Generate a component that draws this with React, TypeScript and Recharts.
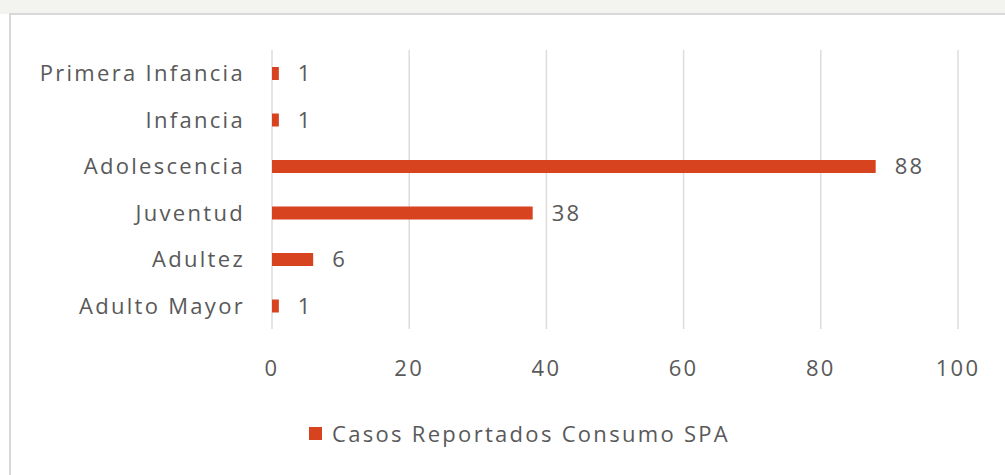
import { Bar, BarChart, CartesianGrid, LabelList, Legend, XAxis, YAxis } from 'recharts';

const grupos = ['Primera Infancia', 'Infancia', 'Adolescencia', 'Juventud', 'Adultez', 'Adulto Mayor'];
const casos = [1, 1, 88, 38, 6, 1];
const ticksX = [0, 20, 40, 60, 80, 100];
const serieNombre = 'Casos Reportados Consumo SPA';

const data = grupos.map((grupo, i) => ({ grupo, casos: casos[i] }));

const FONT = '"Open Sans", Lato, sans-serif';
const TEXT = '#595959';
const BAR = '#D8431F';
const SPACING = 2.3;

function LeyendaCasos() {
  return (
    <div
      style={{
        display: 'flex',
        alignItems: 'center',
        fontFamily: FONT,
        fontSize: 22,
        letterSpacing: SPACING,
        color: TEXT,
        lineHeight: '30px',
        whiteSpace: 'nowrap',
      }}
    >
      <span style={{ width: 13, height: 13, background: BAR, marginRight: 10, display: 'inline-block' }} />
      {serieNombre}
    </div>
  );
}

export default function App() {
  const tickStyle = { fill: TEXT, fontSize: 22, fontFamily: FONT, letterSpacing: SPACING };
  return (
    <div style={{ position: 'fixed', left: 0, top: 0, width: 1005, height: 475, background: '#fff', overflow: 'hidden' }}>
      <div style={{ position: 'absolute', left: 0, top: 0, width: 1005, height: 14, background: '#f3f4ef' }} />
      <div
        style={{
          position: 'absolute',
          left: 9,
          top: 13,
          width: 1000,
          height: 470,
          border: '2px solid #d9d9d9',
          boxSizing: 'border-box',
        }}
      />
      <div style={{ position: 'absolute', left: 0, top: 0 }}>
        <BarChart
          width={1005}
          height={475}
          data={data}
          layout='vertical'
          margin={{ top: 50, right: 47, bottom: 86, left: 0 }}
          barSize={13}
        >
          <CartesianGrid horizontal={false} stroke='#dcdcdc' strokeWidth={1.5} />
          <XAxis
            type='number'
            domain={[0, 100]}
            ticks={ticksX}
            height={30}
            axisLine={false}
            tickLine={false}
            tickSize={0}
            tickMargin={31}
            tick={tickStyle}
          />
          <YAxis
            type='category'
            dataKey='grupo'
            width={272}
            axisLine={false}
            tickLine={false}
            tickSize={0}
            tickMargin={27}
            tick={tickStyle}
          />
          <Legend
            content={<LeyendaCasos />}
            height={30}
            wrapperStyle={{ position: 'absolute', left: 309, top: 418, width: 'auto', height: 30 }}
          />
          <Bar dataKey='casos' name={serieNombre} fill={BAR} isAnimationActive={false}>
            <LabelList
              dataKey='casos'
              position='right'
              offset={19}
              fill={TEXT}
              fontSize={22}
              fontFamily={FONT}
              letterSpacing={SPACING}
            />
          </Bar>
        </BarChart>
      </div>
    </div>
  );
}
